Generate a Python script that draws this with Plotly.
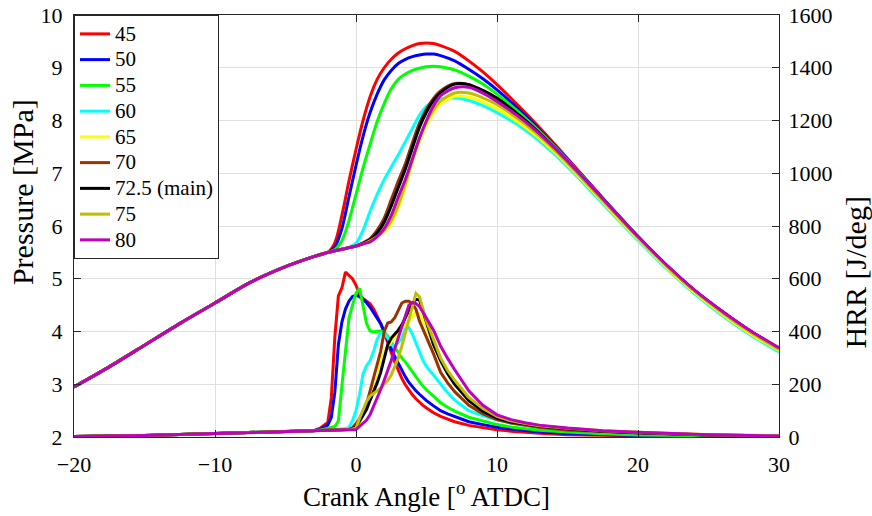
import plotly.graph_objects as go

# Crank angle grids [deg ATDC]
p_deg = [-20, -17.5, -15, -12.5, -10, -7.5, -5, -3, -2, -1.5, -1, -0.5, 0, 0.5, 1, 1.5,
         2, 2.5, 3, 3.5, 4, 4.5, 5, 5.5, 6, 7, 8, 9, 10, 12, 14, 16, 18, 20, 22, 24, 26, 28, 30]
h_deg = [-20, -15, -10, -5, -3, -2.5, -2, -1.75, -1.5, -1.25, -1, -0.75, -0.5, -0.25, 0,
         0.25, 0.5, 0.75, 1, 1.25, 1.5, 1.75, 2, 2.25, 2.5, 2.75, 3, 3.25, 3.5, 3.75, 4,
         4.25, 4.5, 4.75, 5, 5.5, 6, 6.5, 7, 8, 9, 10, 11, 12, 13, 15, 17.5, 20, 25, 30]

labels = ["45", "50", "55", "60", "65", "70", "72.5 (main)", "75", "80"]
colors = ["#ff0000", "#0000ff", "#00ff00", "#00ffff", "#ffff00",
          "#993300", "#000000", "#bfbf00", "#bf00bf"]

# In-cylinder pressure [MPa]
pres_45 = [2.95, 3.33, 3.74, 4.15, 4.54, 4.93, 5.23, 5.42, 5.50, 5.68, 6.20, 6.85, 7.45, 8.00, 8.45, 8.78,
           9.00, 9.16, 9.28, 9.36, 9.42, 9.46, 9.47, 9.46, 9.42, 9.31, 9.13, 8.92, 8.68, 8.15, 7.58, 6.98,
           6.38, 5.80, 5.26, 4.78, 4.37, 4.00, 3.68]
pres_50 = [2.95, 3.33, 3.74, 4.15, 4.54, 4.93, 5.23, 5.42, 5.50, 5.60, 5.95, 6.55, 7.15, 7.70, 8.15, 8.50,
           8.77, 8.95, 9.08, 9.16, 9.21, 9.24, 9.26, 9.26, 9.23, 9.13, 8.97, 8.79, 8.58, 8.10, 7.55, 6.97,
           6.38, 5.80, 5.26, 4.78, 4.37, 4.00, 3.68]
pres_55 = [2.95, 3.33, 3.74, 4.15, 4.54, 4.93, 5.23, 5.42, 5.50, 5.55, 5.72, 6.10, 6.60, 7.10, 7.55, 7.98,
           8.32, 8.60, 8.78, 8.88, 8.95, 8.99, 9.02, 9.03, 9.02, 8.96, 8.84, 8.69, 8.50, 8.05, 7.53, 6.96,
           6.37, 5.80, 5.26, 4.78, 4.37, 4.00, 3.68]
pres_60 = [2.95, 3.33, 3.74, 4.15, 4.54, 4.93, 5.23, 5.42, 5.50, 5.53, 5.56, 5.60, 5.67, 5.92, 6.28, 6.60,
           6.88, 7.12, 7.35, 7.60, 7.85, 8.10, 8.27, 8.36, 8.41, 8.43, 8.38, 8.28, 8.15, 7.82, 7.38, 6.85,
           6.28, 5.73, 5.20, 4.72, 4.30, 3.93, 3.61]
pres_65 = [2.95, 3.33, 3.74, 4.15, 4.54, 4.93, 5.23, 5.42, 5.50, 5.53, 5.56, 5.59, 5.62, 5.66, 5.72, 5.80,
           5.90, 6.05, 6.35, 6.75, 7.20, 7.60, 7.92, 8.15, 8.32, 8.46, 8.44, 8.35, 8.22, 7.87, 7.42, 6.88,
           6.31, 5.75, 5.22, 4.74, 4.32, 3.95, 3.64]
pres_70 = [2.95, 3.33, 3.74, 4.15, 4.54, 4.93, 5.23, 5.42, 5.50, 5.53, 5.56, 5.59, 5.62, 5.68, 5.76, 5.92,
           6.15, 6.50, 6.85, 7.18, 7.58, 7.95, 8.22, 8.42, 8.56, 8.70, 8.68, 8.56, 8.42, 8.00, 7.50, 6.94,
           6.36, 5.79, 5.26, 4.78, 4.37, 4.00, 3.68]
pres_725 = [2.95, 3.33, 3.74, 4.15, 4.54, 4.93, 5.23, 5.42, 5.50, 5.53, 5.56, 5.59, 5.62, 5.67, 5.74, 5.87,
            6.07, 6.38, 6.73, 7.08, 7.48, 7.87, 8.16, 8.38, 8.53, 8.69, 8.68, 8.57, 8.42, 8.00, 7.50, 6.94,
            6.36, 5.79, 5.26, 4.78, 4.37, 4.00, 3.68]
pres_75 = [2.95, 3.33, 3.74, 4.15, 4.54, 4.93, 5.23, 5.42, 5.50, 5.53, 5.56, 5.59, 5.62, 5.66, 5.72, 5.80,
           5.92, 6.10, 6.40, 6.80, 7.25, 7.65, 7.98, 8.20, 8.37, 8.52, 8.52, 8.43, 8.30, 7.93, 7.46, 6.91,
           6.34, 5.78, 5.25, 4.77, 4.35, 3.98, 3.66]
pres_80 = [2.95, 3.33, 3.74, 4.15, 4.54, 4.93, 5.23, 5.42, 5.50, 5.53, 5.56, 5.59, 5.62, 5.66, 5.70, 5.80,
           5.95, 6.20, 6.55, 6.88, 7.27, 7.67, 8.00, 8.28, 8.47, 8.62, 8.63, 8.52, 8.36, 7.98, 7.50, 6.95,
           6.37, 5.80, 5.27, 4.79, 4.38, 4.01, 3.69]

# Heat release rate [J/deg]
hrr_45 = [2, 6, 13, 20, 24, 35, 55, 150, 380, 535, 565, 625, 612, 600, 575,
          540, 525, 515, 505, 485, 460, 430, 395, 355, 320, 285, 250, 222, 198, 178, 160,
          145, 132, 120, 110, 92, 78, 67, 58, 44, 35, 27, 22, 17, 14, 9, 6, 4, 2, 1]
hrr_50 = [2, 6, 13, 20, 24, 30, 45, 75, 170, 350, 436, 485, 515, 533, 537,
          532, 522, 510, 492, 470, 452, 430, 400, 365, 335, 305, 278, 253, 228, 207, 190,
          175, 162, 150, 138, 118, 100, 88, 77, 58, 47, 37, 30, 24, 19, 13, 9, 6, 3, 2]
hrr_55 = [2, 6, 13, 20, 24, 27, 32, 36, 40, 60, 194, 315, 450, 500, 545,
          564, 500, 430, 402, 398, 401, 402, 396, 383, 360, 340, 320, 300, 285, 265, 245,
          228, 210, 193, 178, 155, 130, 113, 98, 75, 60, 47, 38, 31, 26, 19, 12, 8, 4, 3]
hrr_60 = [2, 6, 13, 20, 24, 25, 26, 27, 28, 29, 30, 32, 35, 62, 100,
          160, 240, 270, 290, 325, 370, 395, 392, 375, 350, 345, 358, 375, 410, 415, 390,
          355, 318, 290, 268, 235, 200, 168, 140, 100, 80, 64, 53, 44, 37, 28, 20, 15, 8, 4]
hrr_65 = [2, 6, 13, 20, 22, 23, 24, 25, 25, 26, 26, 27, 27, 28, 30,
          55, 80, 110, 140, 180, 220, 280, 320, 345, 362, 378, 395, 410, 428, 440, 460,
          475, 465, 445, 415, 350, 290, 245, 208, 145, 104, 75, 60, 50, 42, 32, 23, 18, 9, 5]
hrr_70 = [2, 6, 13, 20, 22, 23, 24, 25, 25, 26, 26, 27, 28, 35, 50,
          70, 95, 125, 175, 225, 275, 325, 400, 432, 436, 452, 480, 508, 515, 515, 505,
          485, 440, 410, 380, 315, 245, 205, 172, 120, 88, 66, 53, 44, 37, 27, 20, 15, 8, 4]
hrr_725 = [2, 6, 13, 20, 22, 23, 24, 25, 25, 26, 26, 27, 28, 32, 40,
           60, 80, 105, 140, 170, 205, 245, 300, 350, 375, 390, 405, 425, 455, 480, 505,
           522, 520, 475, 430, 350, 290, 240, 200, 138, 98, 72, 57, 48, 41, 31, 22, 16, 8, 4]
hrr_75 = [2, 6, 13, 20, 22, 23, 24, 25, 25, 26, 26, 27, 28, 30, 35,
          70, 100, 135, 155, 165, 172, 185, 200, 215, 235, 265, 300, 345, 395, 450, 505,
          545, 532, 490, 440, 370, 300, 252, 215, 150, 108, 78, 61, 51, 43, 33, 24, 18, 9, 5]
hrr_80 = [2, 6, 13, 20, 22, 23, 24, 24, 25, 25, 26, 26, 27, 27, 28,
          40, 52, 64, 85, 115, 145, 180, 215, 250, 290, 335, 375, 415, 452, 500, 510,
          506, 495, 475, 450, 405, 345, 298, 255, 175, 120, 84, 66, 54, 45, 34, 24, 18, 9, 4]

pressures = [pres_45, pres_50, pres_55, pres_60, pres_65, pres_70, pres_725, pres_75, pres_80]
hrrs = [hrr_45, hrr_50, hrr_55, hrr_60, hrr_65, hrr_70, hrr_725, hrr_75, hrr_80]

SERIF = "Liberation Serif"
AXIS = "#262626"
GRID = "#e0e0e0"

fig = go.Figure()
for name, col, p in zip(labels, colors, pressures):
    fig.add_trace(go.Scatter(x=p_deg, y=p, mode="lines",
                             name='<span style="font-size:21px">%s</span>' % name,
                             line=dict(color=col, width=3, shape="spline", smoothing=0.8),
                             legendgroup=name, yaxis="y"))
for name, col, h in zip(labels, colors, hrrs):
    fig.add_trace(go.Scatter(x=h_deg, y=h, name=name, mode="lines",
                             line=dict(color=col, width=3),
                             legendgroup=name, showlegend=False, yaxis="y2"))

# Vertical axis titles, set as rotated labels beside each axis
fig.add_annotation(text="Pressure [MPa]", textangle=-90, showarrow=False,
                   xref="paper", yref="paper", x=-0.074, y=0.58,
                   xanchor="center", yanchor="middle",
                   font=dict(family=SERIF, size=30, color="black"))
fig.add_annotation(text="HRR [J/deg]", textangle=-90, showarrow=False,
                   xref="paper", yref="paper", x=1.108, y=0.39,
                   xanchor="center", yanchor="middle",
                   font=dict(family=SERIF, size=30, color="black"))

fig.update_layout(
    width=872, height=516,
    margin=dict(l=74, r=93, t=15, b=79, autoexpand=False),
    plot_bgcolor="white", paper_bgcolor="white",
    font=dict(family=SERIF, size=22, color="black"),
    showlegend=True,
    legend=dict(x=0, y=1, xanchor="left", yanchor="top",
                bgcolor="white", bordercolor=AXIS, borderwidth=1,
                font=dict(family=SERIF, size=17.5, color="black"),
                tracegroupgap=0, itemwidth=30),
    xaxis=dict(range=[-20, 30], dtick=10, showgrid=True, gridcolor=GRID, gridwidth=1,
               showline=True, linecolor=AXIS, linewidth=1, mirror="ticks",
               ticks="inside", ticklen=7, tickcolor=AXIS, zeroline=False, automargin=False,
               tickfont=dict(family=SERIF, size=22), ticklabelstandoff=8,
               title=dict(text="Crank Angle [<sup>o</sup> ATDC]",
                          font=dict(family=SERIF, size=27), standoff=10)),
    yaxis=dict(range=[2, 10], dtick=1, showgrid=True, gridcolor=GRID, gridwidth=1,
               showline=True, linecolor=AXIS, linewidth=1, mirror=True,
               ticks="inside", ticklen=7, tickcolor=AXIS, zeroline=False, automargin=False,
               tickfont=dict(family=SERIF, size=22), ticklabelstandoff=6),
    yaxis2=dict(range=[0, 1600], dtick=200, overlaying="y", side="right",
                showgrid=False, showline=True, linecolor=AXIS, linewidth=1,
                ticks="inside", ticklen=7, tickcolor=AXIS, zeroline=False, automargin=False,
                tickfont=dict(family=SERIF, size=22), ticklabelstandoff=4),
)

fig.write_html("out.html")
